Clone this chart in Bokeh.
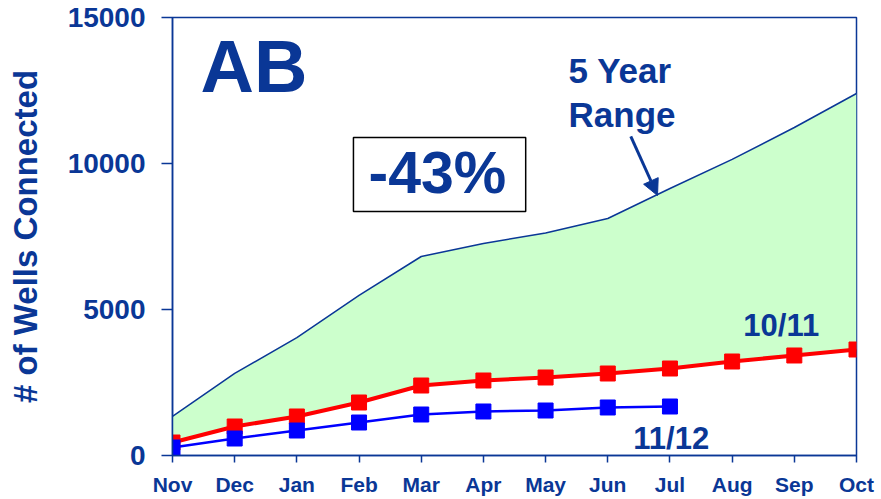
from bokeh.plotting import figure
from bokeh.models import (Range1d, FixedTicker, Label, BoxAnnotation, Arrow, NormalHead)
from bokeh.embed import file_html
from bokeh.resources import INLINE

months = ["Nov", "Dec", "Jan", "Feb", "Mar", "Apr", "May", "Jun", "Jul", "Aug", "Sep", "Oct"]
range_upper = [1340, 2810, 4040, 5480, 6815, 7260, 7620, 8116, 9144, 10140, 11233, 12397]
wells_1011 = [445, 993, 1336, 1815, 2397, 2568, 2671, 2808, 2979, 3219, 3425, 3630]
wells_1112 = [274, 582, 856, 1130, 1404, 1507, 1541, 1644, 1678]
y_ticks = [0, 5000, 10000, 15000]

BLUE = "#0A3796"
FONT = "Liberation Sans"

x_all = list(range(len(months)))
x_1112 = list(range(len(wells_1112)))

p = figure(width=881, height=499, output_backend="svg", toolbar_location=None,
           x_range=Range1d(0, len(months) - 1), y_range=Range1d(0, 15000),
           min_border_left=172, min_border_right=25, min_border_top=17, min_border_bottom=44)
p.background_fill_color = "white"
p.border_fill_color = "white"
p.outline_line_color = BLUE
p.outline_line_width = 1.5
p.xgrid.visible = False
p.ygrid.visible = False

# 5 year range band
p.varea(x=x_all, y1=wells_1011, y2=range_upper, fill_color="#CCFFCC")
p.line(x=x_all, y=range_upper, line_color=BLUE, line_width=1.5)

# 10/11
p.line(x=x_all, y=wells_1011, line_color="#FF0000", line_width=4)
p.scatter(x=x_all, y=wells_1011, marker="square", size=15, fill_color="#FF0000", line_color="#FF0000")
# 11/12
p.line(x=x_1112, y=wells_1112, line_color="#0000FF", line_width=2.5)
p.scatter(x=x_1112, y=wells_1112, marker="square", size=15, fill_color="#0000FF", line_color="#0000FF")

# axes
p.xaxis.ticker = FixedTicker(ticks=x_all)
p.xaxis.major_label_overrides = {i: m for i, m in enumerate(months)}
p.yaxis.ticker = FixedTicker(ticks=y_ticks)
for ax in (p.xaxis[0], p.yaxis[0]):
    ax.axis_line_color = BLUE
    ax.axis_line_width = 1.5
    ax.major_tick_line_color = BLUE
    ax.major_tick_line_width = 1.5
    ax.major_tick_in = 0
    ax.minor_tick_line_color = None
    ax.major_label_text_color = BLUE
    ax.major_label_text_font = FONT
    ax.major_label_text_font_style = "bold"
p.xaxis.major_tick_out = 7
p.xaxis.major_label_standoff = 10
p.xaxis.major_label_text_font_size = "21px"
p.yaxis.major_tick_out = 11
p.yaxis.major_label_standoff = 16
p.yaxis.major_label_text_font_size = "28px"
p.yaxis.axis_label = "# of Wells Connected"
p.yaxis.axis_label_text_font = FONT
p.yaxis.axis_label_text_font_style = "bold"
p.yaxis.axis_label_text_font_size = "33px"
p.yaxis.axis_label_text_color = BLUE
p.yaxis.axis_label_standoff = 21

# annotations
p.add_layout(Label(x=0.45, y=13325, text="AB", text_font=FONT, text_font_style="bold",
                   text_font_size="74px", text_color=BLUE, text_baseline="alphabetic"))
p.add_layout(BoxAnnotation(left=2.91, right=5.68, bottom=8356, top=10890,
                           fill_color="white", fill_alpha=1, line_color="black",
                           line_alpha=1, line_width=1.5))
p.add_layout(Label(x=4.26, y=9658, text="-43%", text_font=FONT, text_font_style="bold",
                   text_font_size="59px", text_color=BLUE, text_align="center",
                   text_baseline="alphabetic"))
p.add_layout(Label(x=6.37, y=13185, text="5 Year", text_font=FONT, text_font_style="bold",
                   text_font_size="35px", text_color=BLUE, text_baseline="alphabetic"))
p.add_layout(Label(x=6.37, y=11678, text="Range", text_font=FONT, text_font_style="bold",
                   text_font_size="35px", text_color=BLUE, text_baseline="alphabetic"))
p.add_layout(Arrow(end=NormalHead(size=16, fill_color=BLUE, line_color=BLUE),
                   x_start=7.37, y_start=10925, x_end=7.80, y_end=8904,
                   line_color=BLUE, line_width=3))
p.add_layout(Label(x=9.18, y=4452, text="10/11", text_font=FONT, text_font_style="bold",
                   text_font_size="31px", text_color=BLUE, text_baseline="alphabetic"))
p.add_layout(Label(x=7.41, y=582, text="11/12", text_font=FONT, text_font_style="bold",
                   text_font_size="31px", text_color=BLUE, text_baseline="alphabetic"))

open("out.html", "w").write(file_html(p, INLINE))
